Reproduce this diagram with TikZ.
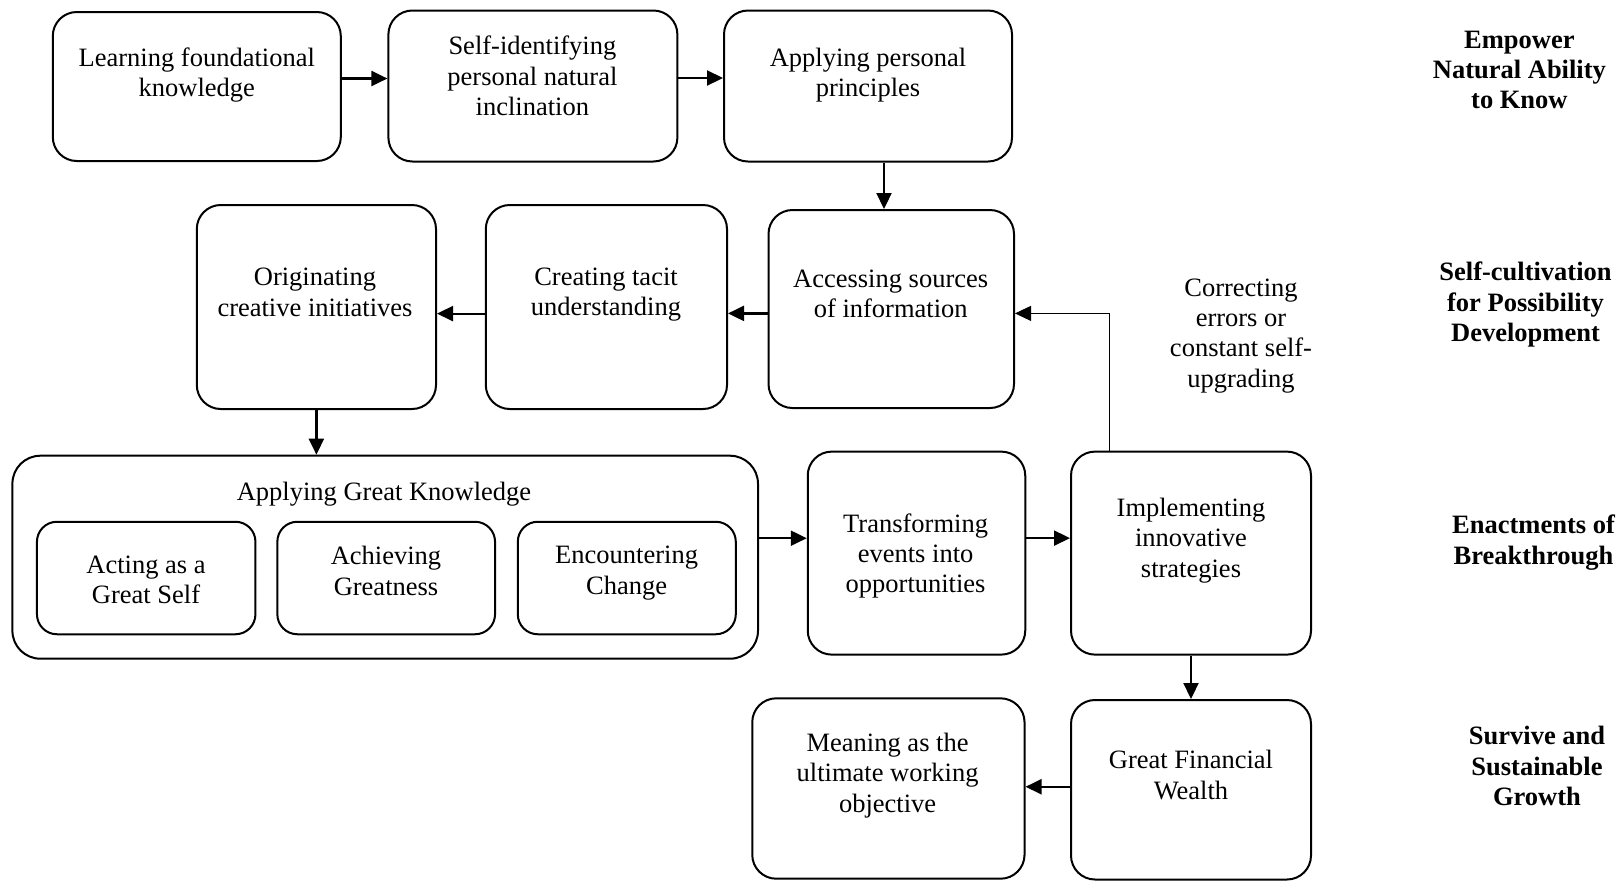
\documentclass[tikz,border=0pt]{standalone}
\usepackage{fontspec}
\setmainfont{Liberation Serif}
\usepackage{tikz}
\usetikzlibrary{arrows.meta,positioning}

\tikzset{
  box/.style={draw, line width=1pt, rounded corners=12pt},
  txt/.style={align=center, inner sep=0pt},
  side/.style={txt, font=\fontsize{13.25}{15.2}\selectfont\bfseries},
  arr/.style={line width=1.1pt, -{Triangle[length=8pt,width=7.5pt]}},
  fb/.style={line width=0.5pt, -{Triangle[length=8pt,width=7.5pt]}}
}

\begin{document}
\begin{tikzpicture}[x=0.5pt,y=-0.5pt,font=\fontsize{13.25}{15.2}\selectfont]
\useasboundingbox (0,0) rectangle (1624,880);

% top row
\node[box, minimum width=144pt, minimum height=74.5pt] (learn) at (196.8,86.5) {};
\node[box, minimum width=144.5pt, minimum height=75.5pt] (selfid) at (532.9,86) {};
\node[box, minimum width=144pt, minimum height=75.5pt] (apply) at (868,86) {};
\node[txt] (learnt) at (196.8,75) {Learning foundational\\knowledge};
\node[txt] (selfidt) at (532.4,76) {Self-identifying\\personal natural\\inclination};
\node[txt] (applyt) at (868,75) {Applying personal\\principles};

% second row
\node[box, minimum width=122.75pt, minimum height=99pt] (access) at (891.25,309) {};
\node[box, minimum width=120.6pt, minimum height=102pt] (tacit) at (606.4,307) {};
\node[box, minimum width=119.6pt, minimum height=102pt] (orig) at (316.4,307) {};
\node[txt] (accesst) at (890.7,293.6) {Accessing sources\\of information};
\node[txt] (tacitt) at (606,294.5) {Creating tacit\\understanding};
\node[txt] (origt) at (315,292.5) {Originating\\creative initiatives};

% third row
\node[box, rounded corners=14pt, minimum width=372.8pt, minimum height=101.5pt] (agk) at (385.2,557.2) {};
\node[txt] (agkt) at (384,494) {Applying Great Knowledge};
\node[box, rounded corners=10pt, minimum width=109.25pt, minimum height=56.25pt] (act) at (146.2,578) {};
\node[box, rounded corners=10pt, minimum width=108.85pt, minimum height=56.25pt] (achieve) at (386.2,578) {};
\node[box, rounded corners=10pt, minimum width=109pt, minimum height=56.25pt] (encounter) at (626.8,578) {};
\node[txt] (actt) at (146,580) {Acting as a\\Great Self};
\node[txt] (achievet) at (386,571) {Achieving\\Greatness};
\node[txt] (encountert) at (626.6,573) {Encountering\\Change};
\node[box, minimum width=108.75pt, minimum height=101.5pt] (transform) at (916.5,553.1) {};
\node[box, minimum width=120pt, minimum height=101.5pt] (implement) at (1191,553.1) {};
\node[txt] (transformt) at (915.6,556) {Transforming\\events into\\opportunities};
\node[txt] (implementt) at (1191,540.5) {Implementing\\innovative\\strategies};

% bottom row
\node[box, minimum width=120pt, minimum height=89.75pt] (wealth) at (1191,789.75) {};
\node[box, minimum width=136.15pt, minimum height=90.2pt] (meaning) at (888.4,788.5) {};
\node[txt] (wealtht) at (1191,775) {Great Financial\\Wealth};
\node[txt] (meaningt) at (887.6,775.3) {Meaning as the\\ultimate working\\objective};

% feedback label
\node[txt] (correct) at (1241,335.8) {Correcting\\errors or\\constant self-\\upgrading};

% side labels
\node[side] (empower) at (1519.4,70) {Empower\\Natural Ability\\to Know};
\node[side] (cultivate) at (1525.5,304.8) {Self-cultivation\\for Possibility\\Development};
\node[side] (enact) at (1533.5,542.7) {Enactments of\\Breakthrough};
\node[side] (survive) at (1537,766.3) {Survive and\\Sustainable\\Growth};

% arrows
\draw[arr] ([yshift=4pt]learn.east) -- ([yshift=4pt]learn.east -| selfid.west);
\draw[arr] ([yshift=4pt]selfid.east) -- ([yshift=4pt]selfid.east -| apply.west);
\draw[arr] ([xshift=8pt]apply.south) -- ([xshift=8pt]apply.south |- access.north);
\draw[arr] ([yshift=-2.2pt]access.west) -- ([yshift=-2.2pt]access.west -| tacit.east);
\draw[arr] ([yshift=-3.3pt]tacit.west) -- ([yshift=-3.3pt]tacit.west -| orig.east);
\draw[arr] (orig.south) -- (orig.south |- agk.north);
\draw[arr] ([yshift=9.5pt]agk.east) -- ([yshift=9.5pt]agk.east -| transform.west);
\draw[arr] ([yshift=7.5pt]transform.east) -- ([yshift=7.5pt]transform.east -| implement.west);
\draw[fb] ([xshift=-41pt]implement.north) |- ([yshift=-2.2pt]access.east);
\draw[arr] (implement.south) -- (wealth.north);
\draw[arr] ([yshift=1.5pt]wealth.west) -- ([yshift=1.5pt]wealth.west -| meaning.east);
\end{tikzpicture}
\end{document}
